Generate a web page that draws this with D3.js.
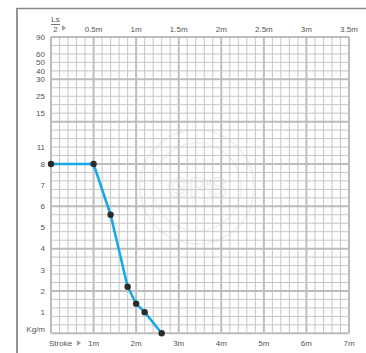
<!DOCTYPE html>
<html><head><meta charset="utf-8">
<script src="https://cdn.jsdelivr.net/npm/d3@7"></script>
<style>
html,body{margin:0;padding:0;background:#fff;}
svg{display:block;font-family:"Liberation Sans",Arial,sans-serif;}
</style></head>
<body><svg id="c" width="366" height="353"></svg>
<script>
// ---- data ----
const strokeValues = [0, 1.0, 1.4, 1.8, 2.0, 2.2, 2.6];      // stroke (m)
const weightValues = [8, 8, 5.6, 2.2, 1.4, 1.0, 0];          // Kg/m
const yTickValues = [90, 60, 50, 40, 30, 25, 15, 11, 8, 7, 6, 5, 4, 3, 2, 1];
const yTickRows   = [0, 2, 3, 4, 5, 7, 9, 13, 15, 17.5, 20, 22.5, 25, 27.5, 30, 32.5];
const bottomTicks = [1, 2, 3, 4, 5, 6, 7];                   // stroke m
const topTicks = [0.5, 1, 1.5, 2, 2.5, 3, 3.5];              // Ls/2 m

const svg = d3.select("#c");
const L = 51, R = 349, T = 37, B = 333.3;
const nCols = 35, nRows = 35;

const x = d3.scaleLinear().domain([0, 7]).range([L, R]);
const xTop = d3.scaleLinear().domain([0, 3.5]).range([L, R]);
const row = d3.scaleLinear().domain([0, nRows]).range([T, B]);
const yRowMap = d3.scaleLinear().domain(yTickValues.concat([0])).range(yTickRows.concat([35]));
const y = v => row(yRowMap(v));

// frame
svg.append("line").attr("x1",17).attr("y1",8.5).attr("x2",366).attr("y2",8.5).attr("stroke","#8a8a8a").attr("stroke-width",1.5);
svg.append("line").attr("x1",17).attr("y1",8).attr("x2",17).attr("y2",353).attr("stroke","#8a8a8a").attr("stroke-width",1.8);

// watermark
const wm = svg.append("g").attr("opacity",0.5);
wm.append("circle").attr("cx",197).attr("cy",187).attr("r",57).attr("fill","none").attr("stroke","#e6e6e6").attr("stroke-width",2);
wm.append("circle").attr("cx",197).attr("cy",187).attr("r",44).attr("fill","none").attr("stroke","#e6e6e6").attr("stroke-width",1.5);
wm.append("text").attr("x",197).attr("y",197).attr("text-anchor","middle").attr("font-size",28).attr("font-weight","bold").attr("fill","none").attr("stroke","#e2e2e2").attr("stroke-width",1.5).text("GPS");

// grid
const g = svg.append("g");
d3.range(0, nCols + 1).forEach(i => {
  const major = i % 5 === 0;
  g.append("line").attr("x1", x(i*0.2)).attr("x2", x(i*0.2)).attr("y1", T).attr("y2", B)
    .attr("stroke", major ? "#bdbdbd" : "#c6c6c6").attr("stroke-width", major ? 2 : 1);
});
d3.range(0, nRows + 1).forEach(i => {
  const major = i % 5 === 0;
  g.append("line").attr("x1", L).attr("x2", R).attr("y1", row(i)).attr("y2", row(i))
    .attr("stroke", major ? "#bdbdbd" : "#c6c6c6").attr("stroke-width", major ? 2 : 1);
});

// y labels
const lab = svg.append("g").attr("font-size", 8).attr("fill", "#555");
yTickValues.forEach(v => {
  lab.append("text").attr("x", 45).attr("y", y(v)).attr("dy", "0.35em").attr("text-anchor","end").text(v);
});
lab.append("text").attr("x", 45).attr("y", B - 1.5).attr("text-anchor","end").text("Kg/m");

// top labels
topTicks.forEach(v => {
  lab.append("text").attr("x", xTop(v)).attr("y", 32).attr("text-anchor","middle").text(v + "m");
});
lab.append("text").attr("x", 55.5).attr("y", 22).attr("text-anchor","middle").text("Ls");
lab.append("line").attr("x1", 51).attr("x2", 60).attr("y1", 24.5).attr("y2", 24.5).attr("stroke","#555").attr("stroke-width",0.8);
lab.append("text").attr("x", 55.5).attr("y", 31.5).attr("text-anchor","middle").text("2");
lab.append("path").attr("d","M62,25 L66,28 L62,31 Z").attr("fill","#a0a0a0");

// bottom labels
bottomTicks.forEach(v => {
  lab.append("text").attr("x", x(v)).attr("y", 346).attr("text-anchor","middle").text(v + "m");
});
lab.append("text").attr("x", 49).attr("y", 346).text("Stroke");
lab.append("path").attr("d","M77,340 L81,343 L77,346 Z").attr("fill","#a0a0a0");

// data line
const pts = strokeValues.map((s, i) => [x(s), y(weightValues[i])]);
svg.append("path").attr("d", d3.line()(pts)).attr("fill","none").attr("stroke","#19a9e6").attr("stroke-width",2.6).attr("stroke-linejoin","round");
svg.append("g").selectAll("circle").data(pts).join("circle")
  .attr("cx", d => d[0]).attr("cy", d => d[1]).attr("r", 3.2).attr("fill", "#2b2b2b");
</script></body></html>
